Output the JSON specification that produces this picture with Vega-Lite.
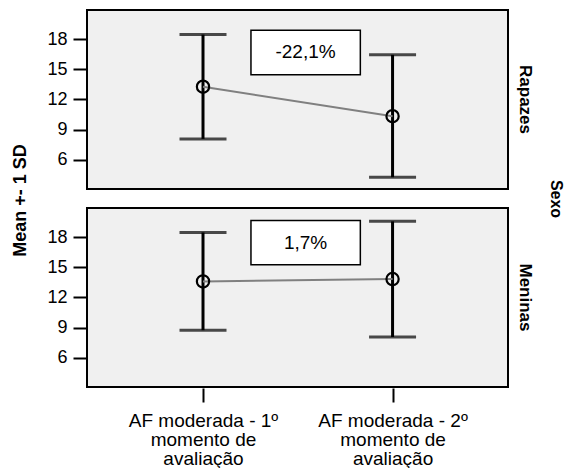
{
  "$schema": "https://vega.github.io/schema/vega-lite/v6.json",
  "padding": {"left": 11, "top": 9, "right": 0, "bottom": 0},
  "title": {
    "text": "Mean +- 1 SD", "orient": "left", "anchor": "middle", "offset": 17, "dx": 38,
    "font": "Liberation Sans", "fontSize": 18, "fontWeight": "bold", "color": "black"
  },
  "data": {"values": [
    {"tipo": "stat", "sexo": "Rapazes", "momento": 1, "mean": 13.27, "lower": 8.08, "upper": 18.46},
    {"tipo": "stat", "sexo": "Rapazes", "momento": 2, "mean": 10.34, "lower": 4.27, "upper": 16.44},
    {"tipo": "stat", "sexo": "Meninas", "momento": 1, "mean": 13.6, "lower": 8.75, "upper": 18.47},
    {"tipo": "stat", "sexo": "Meninas", "momento": 2, "mean": 13.83, "lower": 8.07, "upper": 19.57},
    {"tipo": "label", "sexo": "Rapazes", "bx1": 1.253, "bx2": 1.83, "by1": 18.89, "by2": 14.46, "bxm": 1.541, "bym": 16.68, "label": "-22,1%"},
    {"tipo": "label", "sexo": "Meninas", "bx1": 1.253, "bx2": 1.83, "by1": 19.66, "by2": 15.25, "bxm": 1.541, "bym": 17.46, "label": "1,7%"}
  ]},
  "facet": {
    "row": {
      "field": "sexo", "type": "nominal", "sort": ["Rapazes", "Meninas"], "title": "Sexo",
      "header": {
        "labelOrient": "right", "labelAngle": 90, "labelFontWeight": "bold", "labelFontSize": 17,
        "labelFont": "Liberation Sans", "labelPadding": 7, "labelColor": "black",
        "titleOrient": "right", "titleAngle": 90, "titleFontWeight": "bold", "titleFontSize": 16,
        "titleFont": "Liberation Sans", "titlePadding": 4, "titleColor": "black"
      }
    }
  },
  "spacing": 17,
  "spec": {
    "width": 421,
    "height": 179,
    "encoding": {
      "x": {
        "type": "quantitative",
        "scale": {"domain": [0.388, 2.609], "nice": false, "zero": false},
        "axis": {
          "title": null, "values": [1, 2], "grid": false, "domain": false,
          "tickSize": 14, "tickWidth": 2, "tickColor": "black",
          "labelFont": "Liberation Sans", "labelFontSize": 19, "labelColor": "black",
          "labelLineHeight": 19, "labelPadding": 9,
          "labelExpr": "datum.value == 1 ? ['AF moderada  - 1º', 'momento de', 'avaliação'] : ['AF moderada - 2º', 'momento de', 'avaliação']"
        }
      },
      "y": {
        "type": "quantitative",
        "scale": {"domain": [3.1, 20.9], "nice": false, "zero": false},
        "axis": {
          "title": null, "values": [6, 9, 12, 15, 18], "grid": false, "domain": false,
          "tickSize": 13, "tickWidth": 2, "tickColor": "black",
          "labelFont": "Liberation Sans", "labelFontSize": 18, "labelColor": "black", "labelPadding": 6
        }
      }
    },
    "layer": [
      {
        "transform": [{"filter": "datum.tipo == 'label'"}],
        "mark": {"type": "rect", "fill": "white", "stroke": "black", "strokeWidth": 1.5},
        "encoding": {
          "x": {"field": "bx1"}, "x2": {"field": "bx2"},
          "y": {"field": "by1"}, "y2": {"field": "by2"}
        }
      },
      {
        "transform": [{"filter": "datum.tipo == 'label'"}],
        "mark": {"type": "text", "font": "Liberation Sans", "fontSize": 19, "color": "black", "align": "center", "baseline": "middle"},
        "encoding": {
          "x": {"field": "bxm"}, "y": {"field": "bym"}, "text": {"field": "label"}
        }
      },
      {
        "transform": [{"filter": "datum.tipo == 'stat'"}],
        "mark": {"type": "rule", "color": "black", "strokeWidth": 3},
        "encoding": {
          "x": {"field": "momento"}, "y": {"field": "lower"}, "y2": {"field": "upper"}
        }
      },
      {
        "transform": [{"filter": "datum.tipo == 'stat'"}],
        "mark": {"type": "tick", "orient": "horizontal", "color": "black", "size": 47, "thickness": 3},
        "encoding": {
          "x": {"field": "momento"}, "y": {"field": "upper"}
        }
      },
      {
        "transform": [{"filter": "datum.tipo == 'stat'"}],
        "mark": {"type": "tick", "orient": "horizontal", "color": "black", "size": 47, "thickness": 3},
        "encoding": {
          "x": {"field": "momento"}, "y": {"field": "lower"}
        }
      },
      {
        "transform": [{"filter": "datum.tipo == 'stat'"}],
        "mark": {"type": "line", "color": "#808080", "strokeWidth": 2},
        "encoding": {
          "x": {"field": "momento"}, "y": {"field": "mean"}
        }
      },
      {
        "transform": [{"filter": "datum.tipo == 'stat'"}],
        "mark": {"type": "point", "shape": "circle", "filled": false, "stroke": "black", "strokeWidth": 2.2, "size": 150, "opacity": 1},
        "encoding": {
          "x": {"field": "momento"}, "y": {"field": "mean"}
        }
      }
    ]
  },
  "config": {
    "view": {"fill": "#f0f0f0", "stroke": "black", "strokeWidth": 2},
    "background": "white"
  }
}
